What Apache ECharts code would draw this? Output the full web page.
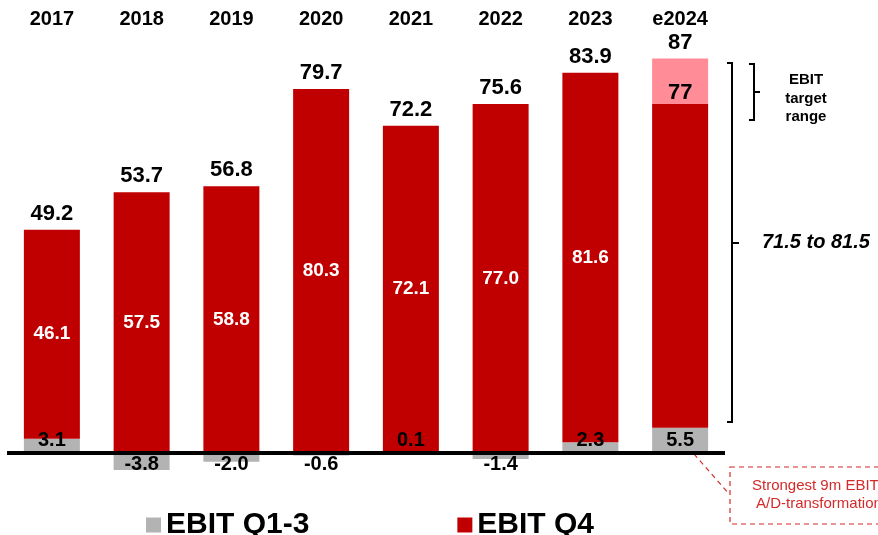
<!DOCTYPE html>
<html>
<head>
<meta charset="utf-8">
<script src="https://cdn.jsdelivr.net/npm/echarts@6/dist/echarts.min.js"></script>
<style>
  html, body { margin: 0; padding: 0; background: #fff; }
  #chart { width: 878px; height: 535px; }
</style>
</head>
<body>
<div id="chart"></div>
<script>
// data
const years = ['2017', '2018', '2019', '2020', '2021', '2022', '2023', 'e2024'];
const ebitQ13 = [3.1, -3.8, -2.0, -0.6, 0.1, -1.4, 2.3, 5.5];
const ebitQ4 = [46.1, 57.5, 58.8, 80.3, 72.1, 77.0, 81.6, 71.5];
const totals = [49.2, 53.7, 56.8, 79.7, 72.2, 75.6, 83.9, 87];
const targetLow = [null, null, null, null, null, null, null, 77];
const targetHigh = [null, null, null, null, null, null, null, 87];

const FONT = "'Liberation Sans', Arial, sans-serif";
const RED = '#C00000';
const GREY = '#B3B3B3';
const PINK = '#FF8C96';

// bar values always with one decimal, the e2024 target numbers without
const fmt1 = v => v.toFixed(1);
const fmtTotal = (v, i) => targetHigh[i] != null ? String(v) : v.toFixed(1);

// grey bars: positive labels sit just above the baseline, negative just below
const greyData = ebitQ13.map(v => ({
    value: v,
    label: v < 0
        ? { position: ['50%', 12], align: 'center', verticalAlign: 'middle' }
        : { position: 'insideBottom', distance: 2 }
}));

const redData = ebitQ4.map((v, i) => ({
    value: v,
    label: { show: targetLow[i] == null }
}));

const rangeData = targetHigh.map((v, i) => v == null ? '-' : v - targetLow[i]);

const option = {
    animation: false,
    grid: { left: 7, right: 153, top: 45, bottom: 37 },
    legend: {
        data: ['EBIT Q1-3', 'EBIT Q4'],
        left: 141,
        top: 505,
        icon: 'rect',
        itemWidth: 15,
        itemHeight: 15,
        itemGap: 148,
        textStyle: { fontFamily: FONT, fontSize: 30, fontWeight: 'bold', color: '#000' }
    },
    xAxis: {
        type: 'category',
        position: 'top',
        data: years,
        axisLine: { show: false },
        axisTick: { show: false },
        axisLabel: {
            margin: 16,
            color: '#000',
            fontFamily: FONT,
            fontSize: 20,
            fontWeight: 'bold'
        }
    },
    yAxis: {
        type: 'value',
        min: -10,
        max: 90,
        show: false,
        splitLine: { show: false }
    },
    series: [
        {
            name: 'EBIT Q1-3',
            type: 'bar',
            stack: 'ebit',
            barWidth: 56,
            itemStyle: { color: GREY },
            label: {
                show: true,
                color: '#000',
                fontFamily: FONT,
                fontSize: 20,
                fontWeight: 'bold',
                formatter: p => fmt1(p.value)
            },
            data: greyData,
            markLine: {
                silent: true,
                symbol: 'none',
                label: { show: false },
                lineStyle: { color: '#000', width: 4, type: 'solid' },
                data: [{ yAxis: 0 }]
            }
        },
        {
            name: 'EBIT Q4',
            type: 'bar',
            stack: 'ebit',
            barWidth: 56,
            itemStyle: { color: RED },
            label: {
                show: true,
                position: 'inside',
                color: '#fff',
                fontFamily: FONT,
                fontSize: 19,
                fontWeight: 'bold',
                formatter: p => fmt1(p.value)
            },
            data: redData
        },
        {
            name: 'Target range',
            type: 'bar',
            stack: 'ebit',
            barWidth: 56,
            itemStyle: { color: PINK },
            label: {
                show: true,
                position: 'insideBottom',
                distance: 0,
                color: '#000',
                fontFamily: FONT,
                fontSize: 22,
                fontWeight: 'bold',
                formatter: p => String(targetLow[p.dataIndex])
            },
            data: rangeData
        },
        {
            name: 'Total',
            type: 'bar',
            stack: 'ebit',
            barWidth: 56,
            itemStyle: { color: 'transparent' },
            label: {
                show: true,
                position: 'top',
                distance: 5,
                color: '#000',
                fontFamily: FONT,
                fontSize: 22,
                fontWeight: 'bold',
                formatter: p => fmtTotal(totals[p.dataIndex], p.dataIndex)
            },
            data: totals.map(() => 0)
        }
    ],
    graphic: [
        // big bracket + range text
        { type: 'polyline', shape: { points: [[727, 63], [732, 63], [732, 422], [727, 422]] },
          style: { stroke: '#000', lineWidth: 2, fill: null } },
        { type: 'line', shape: { x1: 732, y1: 243, x2: 739, y2: 243 }, style: { stroke: '#000', lineWidth: 2 } },
        { type: 'text', left: 762, top: 232,
          style: { text: '71.5 to 81.5', font: "italic bold 20px " + FONT, fill: '#000' } },
        // small bracket + label
        { type: 'polyline', shape: { points: [[749, 64], [754, 64], [754, 120], [749, 120]] },
          style: { stroke: '#000', lineWidth: 2, fill: null } },
        { type: 'line', shape: { x1: 754, y1: 92, x2: 760, y2: 92 }, style: { stroke: '#000', lineWidth: 2 } },
        { type: 'text', x: 806, y: 71,
          style: { text: 'EBIT\ntarget\nrange', font: "bold 15px " + FONT, fill: '#000',
                   align: 'center', lineHeight: 18.5 } },
        // callout
        { type: 'line', shape: { x1: 688, y1: 447, x2: 729, y2: 494 },
          style: { stroke: '#D42A2A', lineWidth: 1.2, lineDash: [5, 4] } },
        { type: 'rect', shape: { x: 730, y: 467, width: 200, height: 57 },
          style: { stroke: '#D42A2A', lineWidth: 1.2, lineDash: [5, 4], fill: null } },
        { type: 'text', x: 752, y: 478,
          style: { text: 'Strongest 9m EBIT since', font: "15px " + FONT, fill: '#D42A2A' } },
        { type: 'text', x: 756, y: 496,
          style: { text: 'A/D-transformation', font: "15px " + FONT, fill: '#D42A2A' } }
    ]
};

const chart = echarts.init(document.getElementById('chart'));
chart.setOption(option);
window.addEventListener('resize', () => chart.resize());
</script>
</body>
</html>
